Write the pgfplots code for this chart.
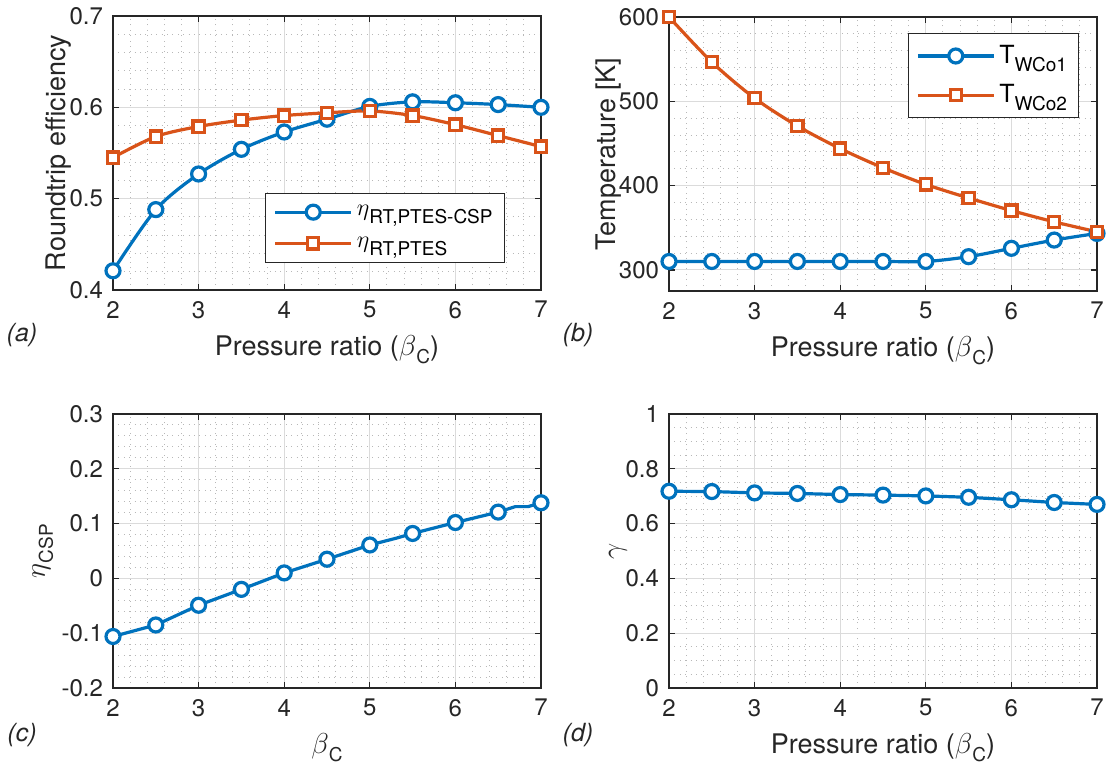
\documentclass[border=0pt]{standalone}
\usepackage{pgfplots}
\pgfplotsset{compat=1.18}
\usepackage{fontspec}
\setmainfont{TeX Gyre Heros}

\definecolor{mblue}{RGB}{0,114,189}
\definecolor{morange}{RGB}{217,83,25}
\definecolor{maxis}{RGB}{38,38,38}

\newcommand{\sub}[1]{\raisebox{-4pt}{\fontsize{9.5}{9.5}\selectfont #1}}

\pgfplotsset{
  mat/.style={
    scale only axis, width=214pt, height=137pt,
    xmin=2, xmax=7, xtick={2,3,4,5,6,7}, xticklabels={2,3,4,5,6,7},
    minor x tick num=4,
    grid=both,
    major grid style={draw=black!14, line width=0.5pt},
    minor grid style={draw=black!28, line width=0.5pt, dash pattern=on 0.5pt off 2.2pt},
    axis line style={draw=maxis, line width=0.8pt},
    tick align=inside, tick pos=both,
    major tick length=3pt, minor tick length=0pt,
    every tick/.style={draw=maxis, line width=0.6pt},
    ticklabel style={font=\fontsize{12}{14}\selectfont, text=maxis},
    xticklabel style={yshift=-2pt},
    yticklabel style={xshift=-1.5pt},
    label style={font=\fontsize{13.5}{16}\selectfont, text=maxis},
    xlabel style={at={(axis description cs:0.5,0)}, anchor=base, yshift=-33pt},
    legend cell align=left,
    legend style={draw=maxis, line width=0.5pt, font=\fontsize{12.5}{15}\selectfont,
      row sep=5pt, inner xsep=4pt, inner ysep=4pt},
    legend image code/.code={\draw[mark repeat=2, mark phase=2, #1]
      plot coordinates {(0pt,0pt) (19pt,0pt) (38pt,0pt)};},
  },
  bl/.style={color=mblue, line width=1.6pt, mark=*, mark size=3.5pt,
    mark options={fill=white, solid}},
  og/.style={color=morange, line width=1.6pt, mark=square*, mark size=2.8pt,
    mark options={fill=white, solid}},
}

\begin{document}
\begin{tikzpicture}
\path[use as bounding box] (0,0) rectangle (553pt,384.5pt);

% (a)
\begin{axis}[mat, at={(56.5pt,239.5pt)}, anchor=south west,
    ymin=0.4, ymax=0.7, ytick={0.4,0.5,0.6,0.7}, yticklabels={0.4,0.5,0.6,0.7},
    minor y tick num=4,
    xlabel={Pressure ratio ($\beta$\sub{C})},
    ylabel={Roundtrip efficiency},
    ylabel style={at={(axis description cs:-0.127,0.5)}, anchor=center},
    legend style={at={(0.916,0.354)}, anchor=north east}]
\addplot[bl, smooth] coordinates {
  (2,0.421) (2.5,0.488) (3,0.527) (3.5,0.554) (4,0.573) (4.5,0.587)
  (5,0.601) (5.5,0.606) (6,0.605) (6.5,0.603) (7,0.600)};
\addlegendentry{$\eta$\sub{RT,PTES-CSP}}
\addplot[og, smooth] coordinates {
  (2,0.545) (2.5,0.568) (3,0.579) (3.5,0.586) (4,0.591) (4.5,0.594)
  (5,0.596) (5.5,0.591) (6,0.581) (6.5,0.569) (7,0.557)};
\addlegendentry{$\eta$\sub{RT,PTES}}
\end{axis}

% (b)
\begin{axis}[mat, at={(334.5pt,239pt)}, anchor=south west,
    ymin=275, ymax=600, ytick={300,400,500,600}, yticklabels={300,400,500,600},
    minor y tick num=4,
    xlabel={Pressure ratio ($\beta$\sub{C})},
    ylabel={Temperature [K]},
    ylabel style={at={(axis description cs:-0.142,0.5)}, anchor=center},
    legend style={at={(0.959,0.942)}, anchor=north east}]
\addplot[bl, smooth] coordinates {
  (2,310) (2.5,310) (3,310) (3.5,310) (4,310) (4.5,310)
  (5,310) (5.5,315.7) (6,325.6) (6.5,335.4) (7,343.3)};
\addlegendentry{T\sub{WCo1}}
\addplot[og, smooth] coordinates {
  (2,600) (2.5,546.5) (3,503.7) (3.5,470.7) (4,443.9) (4.5,421.1)
  (5,401.4) (5.5,385.3) (6,370.4) (6.5,357) (7,345.2)};
\addlegendentry{T\sub{WCo2}}
\end{axis}

% (c)
\begin{axis}[mat, at={(56.5pt,40.5pt)}, anchor=south west,
    ymin=-0.2, ymax=0.3, ytick={-0.2,-0.1,0,0.1,0.2,0.3},
    yticklabels={-0.2,-0.1,0,0.1,0.2,0.3},
    minor y tick num=4,
    xlabel={$\beta$\sub{C}},
    ylabel={$\eta$\sub{CSP}},
    ylabel style={at={(axis description cs:-0.164,0.5)}, anchor=center}]
\addplot[bl, mark=none] coordinates {
  (2,-0.106) (2.5,-0.085) (3,-0.049) (3.5,-0.020) (3.8,-0.002) (4,0.010)
  (4.5,0.035) (5,0.061) (5.3,0.073) (5.5,0.082) (6,0.102) (6.5,0.121)
  (6.7,0.131) (6.85,0.131) (7,0.138)};
\addplot[bl, only marks] coordinates {
  (2,-0.106) (2.5,-0.085) (3,-0.049) (3.5,-0.020) (4,0.010) (4.5,0.035)
  (5,0.061) (5.5,0.082) (6,0.102) (6.5,0.121) (7,0.138)};
\end{axis}

% (d)
\begin{axis}[mat, at={(334.5pt,40.5pt)}, anchor=south west,
    ymin=0, ymax=1, ytick={0,0.2,0.4,0.6,0.8,1},
    yticklabels={0,0.2,0.4,0.6,0.8,1},
    minor y tick num=3,
    xlabel={Pressure ratio ($\beta$\sub{C})},
    ylabel={$\gamma$},
    ylabel style={at={(axis description cs:-0.119,0.5)}, anchor=center}]
\addplot[bl] coordinates {
  (2,0.718) (2.5,0.717) (3,0.712) (3.5,0.710) (4,0.706) (4.5,0.704)
  (5,0.701) (5.5,0.696) (6,0.687) (6.5,0.677) (7,0.670)};
\end{axis}

\node[font=\fontsize{12.5}{14}\selectfont\itshape, text=maxis] at (11pt,217pt) {(a)};
\node[font=\fontsize{12.5}{14}\selectfont\itshape, text=maxis] at (289pt,217pt) {(b)};
\node[font=\fontsize{12.5}{14}\selectfont\itshape, text=maxis] at (11pt,17pt) {(c)};
\node[font=\fontsize{12.5}{14}\selectfont\itshape, text=maxis] at (289pt,17pt) {(d)};
\end{tikzpicture}
\end{document}
